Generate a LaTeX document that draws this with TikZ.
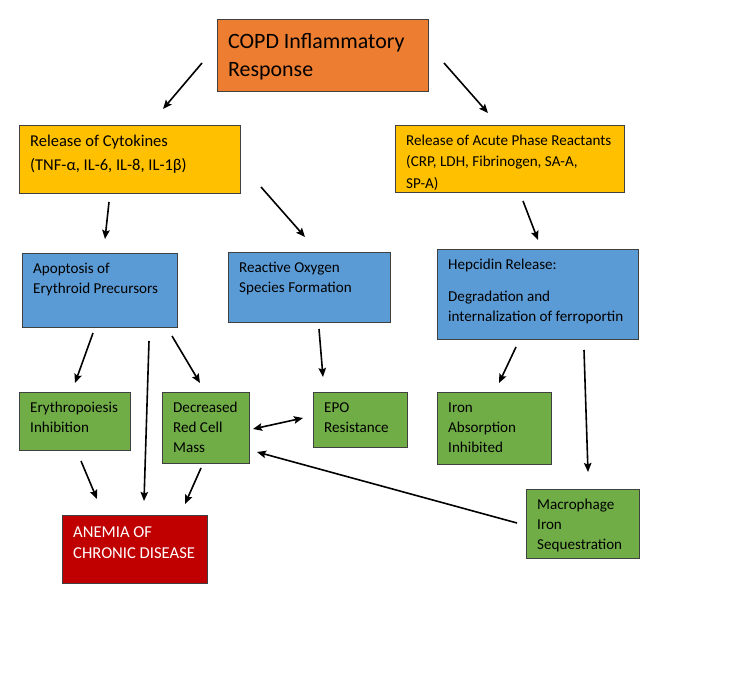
\documentclass[tikz,border=0pt]{standalone}
\usepackage{fontspec}
\setmainfont{Carlito}
\usetikzlibrary{arrows.meta}
\definecolor{acd_orange}{HTML}{ED7D31}
\definecolor{acd_yellow}{HTML}{FFC000}
\definecolor{acd_blue}{HTML}{5B9BD5}
\definecolor{acd_green}{HTML}{70AD47}
\definecolor{acd_red}{HTML}{C00000}
\tikzstyle{box}=[rectangle,anchor=north west,draw=black!75,line width=0.8pt,
  inner sep=0pt]
\tikzstyle{txt}=[anchor=north west,align=left,inner sep=0pt,
  font=\fontsize{15.1}{20}\selectfont]
\tikzstyle{arr}=[->,line width=1.6pt]

\begin{document}
\begin{tikzpicture}[x=1pt,y=-1pt,>={Stealth[length=9pt,width=7.5pt,inset=1.5pt]}]
    \useasboundingbox (0,0) rectangle (750,686);
    % boxes
    \node [style=box,fill=acd_orange,minimum width=211pt,minimum height=72pt] (copd) at (217,19) {};
    \node [style=box,fill=acd_yellow,minimum width=221pt,minimum height=68pt] (cyto) at (19,125) {};
    \node [style=box,fill=acd_yellow,minimum width=229pt,minimum height=67pt] (acute) at (395,125) {};
    \node [style=box,fill=acd_blue,minimum width=155pt,minimum height=74pt] (apop) at (22,253) {};
    \node [style=box,fill=acd_blue,minimum width=162pt,minimum height=70pt] (ros) at (228,252) {};
    \node [style=box,fill=acd_blue,minimum width=201pt,minimum height=90pt] (hep) at (437,249) {};
    \node [style=box,fill=acd_green,minimum width=111pt,minimum height=58pt] (ery) at (19,392) {};
    \node [style=box,fill=acd_green,minimum width=87pt,minimum height=71pt] (rcm) at (162,392) {};
    \node [style=box,fill=acd_green,minimum width=94pt,minimum height=55pt] (epo) at (313,392) {};
    \node [style=box,fill=acd_green,minimum width=114pt,minimum height=72pt] (iron) at (437,392) {};
    \node [style=box,fill=acd_green,minimum width=113pt,minimum height=69pt] (macro) at (526,489) {};
    \node [style=box,fill=acd_red,minimum width=145pt,minimum height=68pt] (acd) at (62,515) {};
    % texts
    \node [style=txt,font=\fontsize{21.9}{28}\selectfont] (copdtxt) at ([shift={(11,9.5)}]copd.north west) {\strut COPD Inflammatory\\Response};
    \node [style=txt,font=\fontsize{16.5}{23.5}\selectfont] (cytotxt) at ([shift={(11,5)}]cyto.north west) {\strut Release of Cytokines\\(TNF-α, IL-6, IL-8, IL-1β)};
    \node [style=txt] (acutetxt) at ([shift={(11,6)}]acute.north west) {\strut Release of Acute Phase Reactants\\[1.5pt](CRP, LDH, Fibrinogen, SA-A,\\[1.5pt]SP-A)};
    \node [style=txt] (apoptxt) at ([shift={(11,6.5)}]apop.north west) {\strut Apoptosis of\\Erythroid Precursors};
    \node [style=txt] (rostxt) at ([shift={(11,6.5)}]ros.north west) {\strut Reactive Oxygen\\Species Formation};
    \node [style=txt] (heptxt) at ([shift={(11,6.5)}]hep.north west) {\strut Hepcidin Release:\\[12pt]Degradation and\\internalization of ferroportin};
    \node [style=txt] (erytxt) at ([shift={(11,6.5)}]ery.north west) {\strut Erythropoiesis\\Inhibition};
    \node [style=txt] (rcmtxt) at ([shift={(11,6.5)}]rcm.north west) {\strut Decreased\\Red Cell\\Mass};
    \node [style=txt] (epotxt) at ([shift={(11,6.5)}]epo.north west) {\strut EPO\\Resistance};
    \node [style=txt] (irontxt) at ([shift={(11,6.5)}]iron.north west) {\strut Iron\\Absorption\\Inhibited};
    \node [style=txt] (macrotxt) at ([shift={(11,6.5)}]macro.north west) {\strut Macrophage\\Iron\\Sequestration};
    \node [style=txt,text=white,font=\fontsize{16.6}{21}\selectfont] (acdtxt) at ([shift={(11,7.3)}]acd.north west) {\strut ANEMIA OF\\CHRONIC DISEASE};
    % connector ends
    \coordinate (copd1) at (202,63);
    \coordinate (copd2) at (444,63);
    \coordinate (cyto_in) at (163,109);
    \coordinate (acute_in) at (488,113);
    \coordinate (cyto1) at (109,202);
    \coordinate (cyto2) at (261,187);
    \coordinate (apop_in) at (105,239);
    \coordinate (ros_in) at (305,237);
    \coordinate (acute1) at (523,201);
    \coordinate (hep_in) at (538,240);
    \coordinate (apop1) at (93,333);
    \coordinate (apop2) at (149,341);
    \coordinate (apop3) at (172,336);
    \coordinate (ery_in) at (75,383);
    \coordinate (rcm_in) at (200,383);
    \coordinate (ros1) at (319,329);
    \coordinate (epo_in) at (323,377);
    \coordinate (hep1) at (516,347);
    \coordinate (hep2) at (584,350);
    \coordinate (iron_in) at (499,383);
    \coordinate (macro_in) at (588,472);
    \coordinate (ery1) at (81,461);
    \coordinate (rcm1) at (201,468);
    \coordinate (acd_in1) at (97,499);
    \coordinate (acd_in2) at (144,501);
    \coordinate (acd_in3) at (185,504);
    \coordinate (rcm_r) at (253,429);
    \coordinate (epo_l) at (303,418);
    \coordinate (macro1) at (517,523);
    \coordinate (rcm_r2) at (257,452);
    % connectors
    \draw [style=arr] (copd1) to (cyto_in);
    \draw [style=arr] (copd2) to (acute_in);
    \draw [style=arr] (cyto1) to (apop_in);
    \draw [style=arr] (cyto2) to (ros_in);
    \draw [style=arr] (acute1) to (hep_in);
    \draw [style=arr] (apop1) to (ery_in);
    \draw [style=arr] (apop2) to (acd_in2);
    \draw [style=arr] (apop3) to (rcm_in);
    \draw [style=arr] (ros1) to (epo_in);
    \draw [style=arr] (hep1) to (iron_in);
    \draw [style=arr] (hep2) to (macro_in);
    \draw [style=arr] (ery1) to (acd_in1);
    \draw [style=arr] (rcm1) to (acd_in3);
    \draw [style=arr,<->] (rcm_r) to (epo_l);
    \draw [style=arr] (macro1) to (rcm_r2);
\end{tikzpicture}
\end{document}
